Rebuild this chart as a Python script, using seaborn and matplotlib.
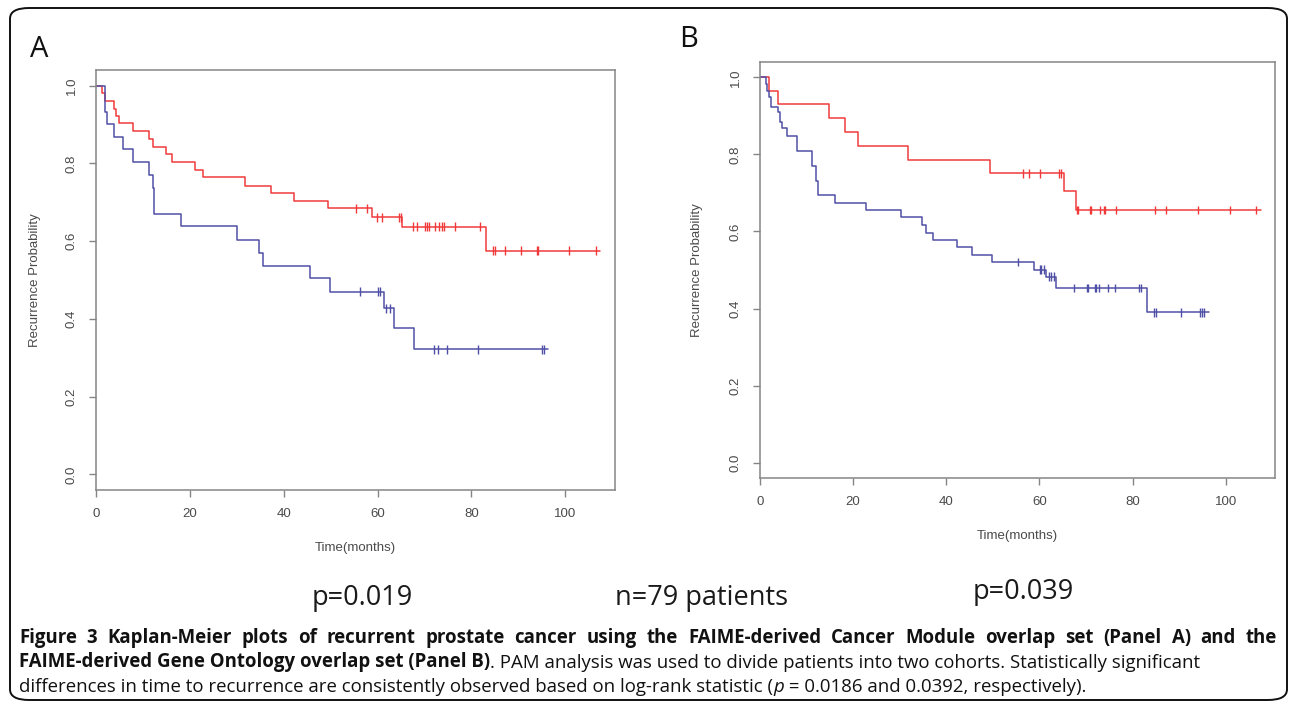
import matplotlib
matplotlib.use("Agg")
import matplotlib.pyplot as plt
import seaborn as sns
import numpy as np
import pandas as pd
from matplotlib.patches import FancyBboxPatch
from matplotlib import font_manager

# ---- Panel A: FAIME Cancer Module overlap set ----
a_red_time = [0, 1.35, 1.9, 3.9, 4.3, 4.9, 7.8, 11.2, 12.2, 14.9, 16.1, 21.2, 22.7,
              31.8, 37.2, 42.1, 49.5, 58.8, 65.2, 83.1, 107.5]
a_red_surv = [1.0, 0.98, 0.961, 0.941, 0.922, 0.904, 0.884, 0.862, 0.843, 0.823, 0.803,
              0.783, 0.764, 0.742, 0.723, 0.703, 0.684, 0.661, 0.637, 0.575, 0.575]
a_red_cens = [55.4, 57.7, 59.8, 61.0, 64.6, 64.9, 67.5, 68.4, 70.2, 70.6, 70.9, 72.3,
              73.0, 73.7, 74.2, 76.5, 81.9, 84.7, 85.0, 87.1, 90.5, 94.0, 94.2, 100.9, 106.6]

a_blue_time = [0, 1.9, 2.3, 3.8, 5.8, 7.8, 11.2, 12.1, 12.4, 18.1, 30.1, 34.8, 35.6,
               45.6, 49.8, 61.4, 63.5, 67.8, 96.4]
a_blue_surv = [1.0, 0.933, 0.9, 0.867, 0.836, 0.803, 0.771, 0.736, 0.670, 0.638, 0.602,
               0.570, 0.537, 0.504, 0.47, 0.427, 0.377, 0.322, 0.322]
a_blue_cens = [56.3, 60.0, 60.6, 61.8, 62.7, 72.1, 72.8, 74.9, 81.5, 95.0, 95.5]

# ---- Panel B: FAIME Gene Ontology overlap set ----
b_red_time = [0, 1.93, 3.9, 14.9, 18.2, 21.1, 31.7, 49.4, 65.2, 67.9, 107.7]
b_red_surv = [1.0, 0.965, 0.931, 0.894, 0.859, 0.823, 0.786, 0.751, 0.705, 0.656, 0.656]
b_red_cens = [56.5, 57.8, 60.2, 64.3, 64.6, 68.1, 68.4, 70.8, 71.1, 73.1, 73.8, 74.1,
              76.4, 84.9, 87.1, 94.1, 101.0, 106.6]

b_blue_time = [0, 1.2, 1.6, 2.0, 2.4, 3.8, 4.4, 4.8, 5.7, 7.9, 11.1, 12.0, 12.4, 16.2,
               22.7, 30.2, 34.8, 35.6, 37.2, 42.2, 45.6, 49.8, 58.9, 61.5, 63.5, 83.1, 96.4]
b_blue_surv = [1.0, 0.983, 0.966, 0.948, 0.924, 0.911, 0.885, 0.868, 0.848, 0.81, 0.771,
               0.732, 0.695, 0.675, 0.656, 0.637, 0.617, 0.597, 0.578, 0.559, 0.540,
               0.521, 0.501, 0.483, 0.453, 0.39, 0.39]
b_blue_cens = [55.5, 60.1, 60.4, 61.0, 62.0, 62.5, 63.1, 67.4, 70.3, 70.5, 71.9, 72.2,
               72.7, 74.8, 76.3, 81.5, 81.9, 84.6, 85.0, 90.5, 94.4, 94.9, 95.4]

x_ticks = [0, 20, 40, 60, 80, 100]
y_ticks = [0.0, 0.2, 0.4, 0.6, 0.8, 1.0]

p_labels = ["p=0.019", "p=0.039"]
n_label = "n=79 patients"

# Style
red = "#f03a3a"
blue = "#4f4fa6"
frame_grey = "#858585"
text_grey = "#4a4a4a"
W, H = 1290, 708
tick_size = 9.5

sns.set_style("ticks")
plt.rcParams['font.family'] = ['Liberation Sans', 'DejaVu Sans']

installed = {f.name for f in font_manager.fontManager.ttflist}
cap_font = "Liberation Sans Narrow" if "Liberation Sans Narrow" in installed else "Open Sans"
big_font = "Open Sans" if "Open Sans" in installed else "DejaVu Sans"

fig = plt.figure(figsize=(W / 100, H / 100), dpi=100)
fig.patch.set_facecolor("white")


def step_level(times, surv, cens):
    idx = np.searchsorted(times, cens, side="right") - 1
    return np.asarray(surv)[idx]


def draw_panel(ax, red_t, red_s, red_c, blue_t, blue_s, blue_c):
    pal = {"hi": red, "lo": blue}
    curves = pd.concat([
        pd.DataFrame({"time": red_t, "surv": red_s, "group": "hi"}),
        pd.DataFrame({"time": blue_t, "surv": blue_s, "group": "lo"}),
    ], ignore_index=True)
    sns.lineplot(data=curves, x="time", y="surv", hue="group", palette=pal,
                 estimator=None, sort=False, drawstyle="steps-post",
                 linewidth=1.1, legend=False, ax=ax)
    marks = pd.concat([
        pd.DataFrame({"time": red_c, "surv": step_level(red_t, red_s, red_c), "group": "hi"}),
        pd.DataFrame({"time": blue_c, "surv": step_level(blue_t, blue_s, blue_c), "group": "lo"}),
    ], ignore_index=True)
    sns.scatterplot(data=marks, x="time", y="surv", hue="group", palette=pal,
                    marker="|", s=40, linewidth=1.0, legend=False, ax=ax)

    ax.set_xlim(0, 110.6)
    ax.set_ylim(-0.04, 1.04)
    ax.set_xticks(x_ticks)
    ax.set_xticklabels([str(v) for v in x_ticks])
    ax.set_yticks(y_ticks)
    ax.set_yticklabels([f"{v:.1f}" for v in y_ticks], rotation=90, va="center")
    ax.tick_params(direction="out", length=5, width=1, color=frame_grey,
                   labelsize=tick_size, labelcolor=text_grey)
    ax.tick_params(axis="x", pad=8)
    ax.tick_params(axis="y", pad=8)
    for sp in ax.spines.values():
        sp.set_visible(True)
        sp.set_color(frame_grey)
        sp.set_linewidth(1.1)
    ax.set_xlabel("Time(months)", fontsize=tick_size, color=text_grey)
    ax.set_ylabel("Recurrence Probability", fontsize=tick_size, color=text_grey)


axA = fig.add_axes([96 / W, 1 - 490 / H, 519 / W, 420 / H])
draw_panel(axA, a_red_time, a_red_surv, a_red_cens, a_blue_time, a_blue_surv, a_blue_cens)
axA.yaxis.set_label_coords(-0.106, 0.5)
axA.xaxis.set_label_coords(0.5, -0.124)

axB = fig.add_axes([760 / W, 1 - 478 / H, 515 / W, 416 / H])
draw_panel(axB, b_red_time, b_red_surv, b_red_cens, b_blue_time, b_blue_surv, b_blue_cens)
axB.yaxis.set_label_coords(-0.111, 0.5)
axB.xaxis.set_label_coords(0.5, -0.125)

# panel letters
fig.text(30 / W, 1 - 57 / H, "A", fontsize=21, family=big_font, color="#111111")
fig.text(679 / W, 1 - 47 / H, "B", fontsize=21, family=big_font, color="#111111")

# p-values and n
fig.text(362 / W, 1 - 605 / H, p_labels[0], fontsize=19.5, family=big_font,
         ha="center", va="baseline", color="#1a1a1a")
fig.text(702 / W, 1 - 605 / H, n_label, fontsize=19.5, family=big_font,
         ha="center", va="baseline", color="#1a1a1a")
fig.text(1023 / W, 1 - 599 / H, p_labels[1], fontsize=19.5, family=big_font,
         ha="center", va="baseline", color="#1a1a1a")

# rounded frame
frame = FancyBboxPatch((10 / W, 8 / H), 1277 / W, 692 / H,
                       boxstyle="round,pad=0,rounding_size=0.015",
                       transform=fig.transFigure, fill=False,
                       edgecolor="#111111", linewidth=1.4)
fig.add_artist(frame)

# caption
renderer = fig.canvas.get_renderer()
line1 = ("Figure 3 Kaplan-Meier plots of recurrent prostate cancer using the FAIME-derived "
         "Cancer Module overlap set (Panel A) and the")
line2 = [("FAIME-derived Gene Ontology overlap set (Panel B)", "bold", "normal"),
         (". PAM analysis was used to divide patients into two cohorts. Statistically significant",
          "normal", "normal")]
line3 = [("differences in time to recurrence are consistently observed based on log-rank statistic (",
          "normal", "normal"),
         ("p", "normal", "italic"),
         (" = 0.0186 and 0.0392, respectively).", "normal", "normal")]


def put_run(x0, y, pieces, size):
    x = x0
    texts = []
    for s, w, st in pieces:
        t = fig.text(x / W, 1 - y / H, s, fontsize=size, family=cap_font,
                     weight=w, style=st, va="baseline", color="#111111")
        x += t.get_window_extent(renderer).width
        texts.append(t)
    return texts, x - x0


# fit the caption size on line 3 width
tmp, width = put_run(19, 692, line3, 10)
for t in tmp:
    t.remove()
cap_size = 10 * 1068 / width

put_run(19, 667.5, line2, cap_size)
put_run(19, 692, line3, cap_size)

# justified first line
words = line1.split(" ")
wtexts = [fig.text(0, 1 - 643 / H, w, fontsize=cap_size, family=cap_font, weight="bold",
                   va="baseline", color="#111111") for w in words]
widths = [t.get_window_extent(renderer).width for t in wtexts]
gap = (1258 - sum(widths)) / (len(words) - 1)
x = 19
for t, w in zip(wtexts, widths):
    t.set_x(x / W)
    x += w + gap

fig.savefig("out.png", dpi=100)
